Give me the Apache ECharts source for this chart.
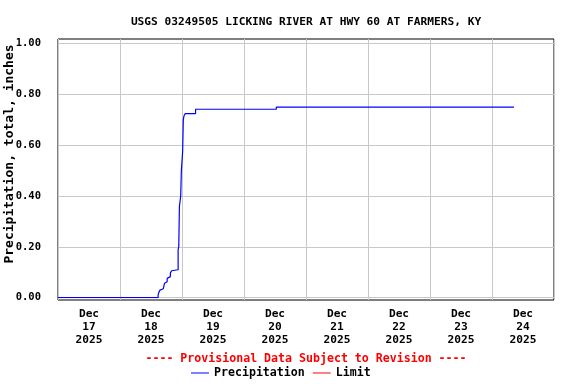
<!DOCTYPE html>
<html>
<head>
<meta charset="utf-8">
<script src="https://cdn.jsdelivr.net/npm/echarts@6/dist/echarts.min.js"></script>
<style>html,body{margin:0;padding:0;background:#fff}#c{width:576px;height:384px}</style>
</head>
<body>
<div id="c"></div>
<script>
const TITLE = 'USGS 03249505 LICKING RIVER AT HWY 60 AT FARMERS, KY';
const PROVISIONAL = '---- Provisional Data Subject to Revision ----';
const Y_NAME = 'Precipitation, total, inches';
const START_TIME = '2025-12-17 00:00';
const END_TIME = '2025-12-25 00:00';
const dayMonth = 'Dec';
const dayNumbers = ['17', '18', '19', '20', '21', '22', '23', '24'];
const dayYear = '2025';
const precipTimes = [
  '2025-12-17 00:00', '2025-12-18 14:45', '2025-12-18 15:00', '2025-12-18 15:30',
  '2025-12-18 16:15', '2025-12-18 16:45', '2025-12-18 17:15', '2025-12-18 17:45',
  '2025-12-18 18:15', '2025-12-18 19:00', '2025-12-18 19:30', '2025-12-18 20:00',
  '2025-12-18 20:30', '2025-12-18 22:30', '2025-12-18 22:45', '2025-12-18 23:00',
  '2025-12-18 23:30', '2025-12-18 23:45', '2025-12-19 00:15', '2025-12-19 00:30',
  '2025-12-19 00:45', '2025-12-19 01:15', '2025-12-19 05:15', '2025-12-20 12:30',
  '2025-12-24 08:30'
];
const precipValues = [
  0.00, 0.01, 0.02, 0.03,
  0.035, 0.04, 0.057, 0.063,
  0.076, 0.083, 0.098, 0.106,
  0.11, 0.19, 0.20, 0.36,
  0.40, 0.50, 0.575, 0.70,
  0.715, 0.725, 0.742, 0.75,
  0.75
];
const limitValues = [];

const FONT = 'DejaVu Sans Mono';
const parseT = s => Date.parse(s.replace(' ', 'T') + ':00');
const t0 = parseT(START_TIME);
const toHours = s => (parseT(s) - t0) / 3600000;
const spanHours = toHours(END_TIME);

const precipData = precipTimes.map((t, i) => [toHours(t), precipValues[i]]);
const dayCats = dayNumbers.map(d => dayMonth + '\n' + d + '\n' + dayYear);

const chart = echarts.init(document.getElementById('c'), null, {renderer: 'canvas'});
chart.setOption({
  animation: false,
  backgroundColor: '#fff',
  textStyle: {fontFamily: FONT},
  title: [
    {text: TITLE, left: 306, top: 17, textAlign: 'center', padding: 0,
     textStyle: {fontFamily: FONT, fontSize: 11.2, fontWeight: 'bold', color: '#000'}},
    {text: PROVISIONAL, left: 306, top: 353, textAlign: 'center', padding: 0,
     textStyle: {fontFamily: FONT, fontSize: 11.6, fontWeight: 'bold', color: '#ff0000'}}
  ],
  legend: {
    left: 191, top: 367, padding: 0, itemGap: 8, itemWidth: 18, itemHeight: 1,
    icon: 'rect', selectedMode: false,
    textStyle: {fontFamily: FONT, fontSize: 11.6, fontWeight: 'bold', color: '#000'},
    data: ['Precipitation', 'Limit']
  },
  graphic: [{
    type: 'text', x: 10, y: 154, rotation: Math.PI / 2,
    style: {text: Y_NAME, align: 'center', verticalAlign: 'middle',
            font: 'bold 13px "DejaVu Sans Mono"', fill: '#000'}
  }],
  grid: [
    {left: 58, right: 22, top: 39, bottom: 84, show: true, borderColor: '#000', borderWidth: 1, backgroundColor: 'transparent'},
    {left: 58, right: 22, top: 43.7, bottom: 86.3}
  ],
  xAxis: [
    {type: 'value', gridIndex: 0, min: 0, max: spanHours, interval: 24,
     axisLine: {show: false}, axisTick: {show: false}, axisLabel: {show: false},
     splitLine: {show: true, lineStyle: {color: '#c8c8c8', width: 1}}},
    {type: 'category', gridIndex: 0, data: dayCats, boundaryGap: true, position: 'bottom',
     axisLine: {show: false}, axisTick: {show: false}, splitLine: {show: false},
     axisLabel: {margin: 8, lineHeight: 13, fontFamily: FONT, fontSize: 11.2, fontWeight: 'bold', color: '#000', interval: 0}},
    {type: 'value', gridIndex: 1, min: 0, max: spanHours, interval: 24, show: false,
     splitLine: {show: false}}
  ],
  yAxis: [
    {type: 'value', gridIndex: 0, min: 0, max: 1, show: false, splitLine: {show: false}},
    {type: 'value', gridIndex: 1, min: 0, max: 1, interval: 0.2,
     axisLine: {show: false}, axisTick: {show: false},
     axisLabel: {margin: 17, fontFamily: FONT, fontSize: 10.5, fontWeight: 'bold', color: '#000',
                 formatter: v => v.toFixed(2)},
     splitLine: {show: true, lineStyle: {color: '#c8c8c8', width: 1}}}
  ],
  series: [
    {name: 'Precipitation', type: 'line', xAxisIndex: 2, yAxisIndex: 1, step: 'end',
     data: precipData, showSymbol: false, symbol: 'none', color: '#0000ff',
     lineStyle: {color: '#0000ff', width: 1.2}, z: 5},
    {name: 'Limit', type: 'line', xAxisIndex: 2, yAxisIndex: 1, data: limitValues,
     showSymbol: false, symbol: 'none', color: '#ff0000', lineStyle: {color: '#ff0000', width: 1}}
  ]
});
</script>
</body>
</html>
